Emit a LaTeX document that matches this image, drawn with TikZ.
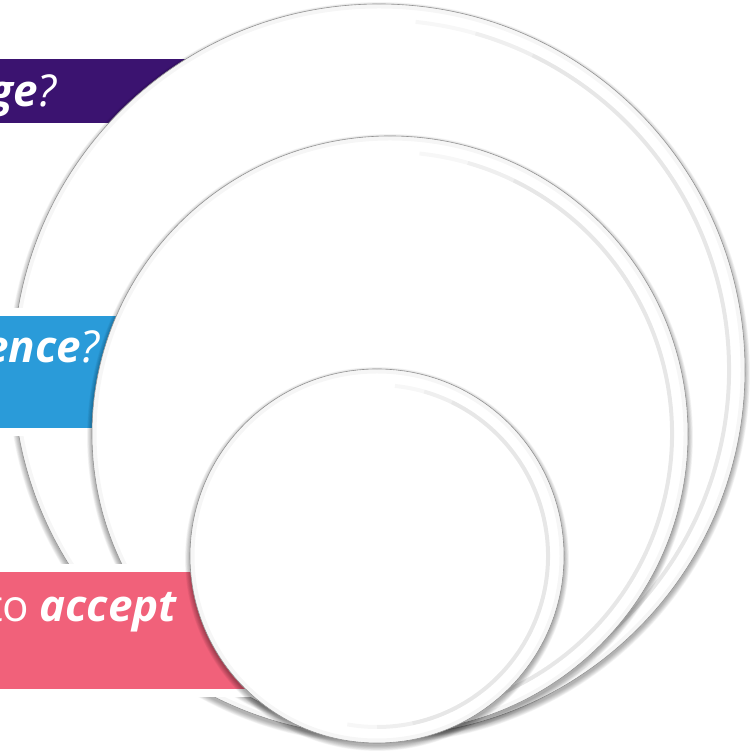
\documentclass[tikz,border=0pt]{standalone}
\usepackage{fontspec}
\setmainfont{Open Sans}
\usetikzlibrary{calc}
\definecolor{cpurple}{HTML}{3B1370}
\definecolor{cblue}{HTML}{2A9BD9}
\definecolor{cpink}{HTML}{F1617A}
\newcommand\mydisc[4]{%
  \foreach \k in {0,...,9}{\fill[black,opacity=0.034] (#2,#3-3) circle ({#4+\k*0.55});}
  \node[disc, minimum size=#4*2pt] (#1) at (#2,#3) {};
  \draw[black,opacity=0.035,line width=4pt] (#1.center) circle ({#4-2.5});
  \draw[ring] (#1.center) ++(84:{#4-16}) arc[start angle=84, end angle=-100, radius={#4-16}];
  \draw[ring] (#1.center) ++(74:{#4-16}) arc[start angle=74, end angle=-90, radius={#4-16}];
  \draw[ring] (#1.center) ++(64:{#4-16}) arc[start angle=64, end angle=-78, radius={#4-16}];
}
\begin{document}
\begin{tikzpicture}[x=1pt,y=1pt,
  disc/.style={circle, draw=black!42, line width=0.6pt, fill=white, inner sep=0pt, outer sep=0pt},
  ring/.style={black, opacity=0.03, line width=4pt},
  lbl/.style={anchor=base east, text=white, inner sep=0pt, font=\fontsize{44}{52}\selectfont}]
\useasboundingbox (0,0) rectangle (749,751);
% purple bar
\fill[cpurple] (0,628) rectangle (300,692);
\node[lbl] (t1) at (58,644) {\textbf{\textit{ge}}\textit{?}};
% big circle
\mydisc{big}{379}{381}{366}
% blue bar
\fill[white] (0,315) rectangle (208,443);
\fill[cblue] (0,323) rectangle (200,435);
\node[lbl] (t2) at (101,388) {\textbf{\textit{ence}}\textit{?}};
% middle circle
\mydisc{mid}{390}{317}{298}
% pink bar
\fill[white] (0,54) rectangle (254,187);
\fill[cpink] (0,62) rectangle (250,179);
\node[lbl] (t3) at (178,129) {to\hspace{-1pt} \textbf{\textit{accept}}};
% small circle
\mydisc{small}{377}{195}{187}
\end{tikzpicture}
\end{document}
